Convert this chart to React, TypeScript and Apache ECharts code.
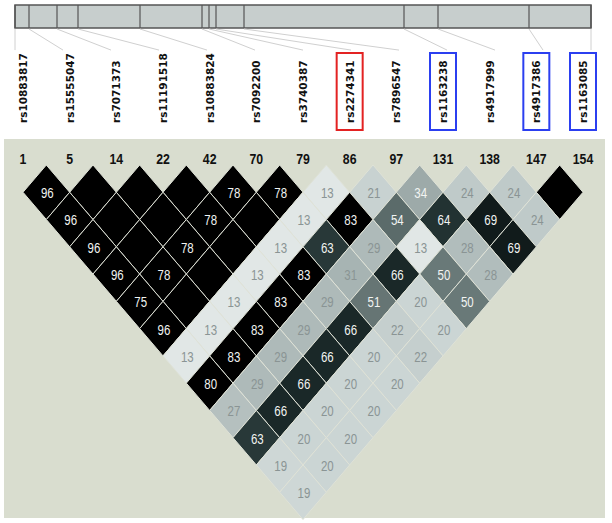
import React, { useEffect, useRef } from "react";
import * as echarts from "echarts";

const snpNames = [
  "rs10883817", "rs15555047", "rs7071373", "rs11191518", "rs10883824", "rs7092200",
  "rs3740387", "rs2274341", "rs7896547", "rs1163238", "rs4917999", "rs4917386", "rs1163085",
];
const markerNumbers = ["1", "5", "14", "22", "42", "70", "79", "86", "97", "131", "138", "147", "154"];
const barPositions = [0, 14, 42, 63, 125, 187, 194, 201, 229, 389, 423, 514, 576];
const barLength = 576;
const redBoxed = ["rs2274341"];
const blueBoxed = ["rs1163238", "rs4917386", "rs1163085"];

// LD values (r2 x 100) by marker distance: ldRows[k-1][i] = pair (i, i+k); 100 = black, no number
const ld1 = [96, 100, 100, 100, 78, 78, 13, 21, 34, 24, 24, 100];
const ld2 = [96, 100, 100, 78, 100, 13, 83, 54, 64, 69, 24];
const ld3 = [96, 100, 78, 100, 13, 63, 29, 13, 28, 69];
const ld4 = [96, 78, 100, 13, 83, 31, 66, 50, 28];
const ld5 = [75, 100, 13, 83, 29, 51, 20, 50];
const ld6 = [96, 13, 83, 29, 66, 22, 20];
const ld7 = [13, 83, 29, 66, 20, 22];
const ld8 = [80, 29, 66, 20, 20];
const ld9 = [27, 66, 20, 20];
const ld10 = [63, 20, 20];
const ld11 = [19, 20];
const ld12 = [19];
const ldRows = [ld1, ld2, ld3, ld4, ld5, ld6, ld7, ld8, ld9, ld10, ld11, ld12];

export default function App() {
  const ref = useRef<HTMLDivElement>(null);
  useEffect(() => {
    if (!ref.current) return;
    const chart = echarts.init(ref.current, null, { renderer: "svg" });
    const n = snpNames.length;
    const ldData: number[][] = [];
    ldRows.forEach((row, k) => row.forEach((v, i) => ldData.push([i, i + k + 1, v])));

    const option: any = {
      animation: false,
      graphic: [
        { type: "rect", z: -10, shape: { x: 4, y: 139, width: 601, height: 379 }, style: { fill: "#d9ddcf" } },
      ],
      grid: [
        { left: 23, width: 560, top: 165, height: 354.5 },
        { left: 15, width: 576, top: 5, height: 23 },
      ],
      xAxis: [
        { type: "value", gridIndex: 0, min: 0, max: n - 1, show: false },
        { type: "value", gridIndex: 1, min: 0, max: barLength, show: false },
      ],
      yAxis: [
        { type: "value", gridIndex: 0, min: 0, max: 13, inverse: true, show: false },
        { type: "value", gridIndex: 1, min: 0, max: 1, show: false },
      ],
      visualMap: {
        type: "continuous",
        show: false,
        seriesIndex: 0,
        dimension: 2,
        min: 13,
        max: 75,
        inRange: { color: ["#e1e7e6", "#c1cccb", "#9eabaa", "#7e8d8c", "#5a6a69", "#1e2e2e", "#000000"] },
      },
      series: [
        {
          type: "custom",
          xAxisIndex: 0,
          yAxisIndex: 0,
          data: ldData,
          renderItem: (params: any, api: any) => {
            const i = api.value(0), j = api.value(1), v = api.value(2);
            const cx = (i + j) / 2, cy = j - i;
            const pts = [
              api.coord([cx, cy - 1]),
              api.coord([cx + 0.5, cy]),
              api.coord([cx, cy + 1]),
              api.coord([cx - 0.5, cy]),
            ];
            const c = api.coord([cx, cy]);
            const children: any[] = [
              { type: "polygon", shape: { points: pts }, style: { fill: api.visual("color"), stroke: "#dfe2d7", lineWidth: 1 } },
            ];
            if (v < 100) {
              children.push({
                type: "text", x: c[0] + 1, y: c[1] + 1, scaleX: 0.82,
                style: {
                  text: String(v), fill: v >= 34 ? "#f2f4f2" : "#8a9494",
                  font: '14px "Liberation Sans", Arial, sans-serif', align: "center", verticalAlign: "middle",
                },
              });
            }
            return { type: "group", children };
          },
        },
        {
          type: "custom",
          xAxisIndex: 0,
          yAxisIndex: 0,
          data: markerNumbers.map((m, i) => [i, m]),
          renderItem: (params: any, api: any) => {
            const i = api.value(0);
            const p = api.coord([i, -0.2]);
            return {
              type: "text", x: p[0], y: p[1], scaleX: 0.82,
              style: {
                text: markerNumbers[i], fill: "#111111",
                font: 'bold 15px "Liberation Sans", Arial, sans-serif', align: "center", verticalAlign: "middle",
              },
            };
          },
        },
        {
          type: "custom",
          xAxisIndex: 0,
          yAxisIndex: 0,
          data: snpNames.map((s, i) => [i, s]),
          renderItem: (params: any, api: any) => {
            const i = api.value(0);
            const name = snpNames[i];
            const p = api.coord([i, -1.54]);
            const children: any[] = [
              {
                type: "text", x: p[0], y: p[1], rotation: Math.PI / 2,
                style: {
                  text: name, fill: "#111111",
                  font: 'bold 10.5px "DejaVu Sans", Verdana, sans-serif', align: "left", verticalAlign: "middle",
                },
              },
            ];
            const boxColor = redBoxed.includes(name) ? "#e32222" : blueBoxed.includes(name) ? "#2b3ff0" : null;
            if (boxColor) {
              children.push({
                type: "rect", shape: { x: p[0] - 13, y: p[1] - 70, width: 26, height: 77 },
                style: { fill: "none", stroke: boxColor, lineWidth: 2 },
              });
            }
            return { type: "group", children };
          },
        },
        {
          type: "custom",
          xAxisIndex: 1,
          yAxisIndex: 1,
          data: [[0, barLength]],
          renderItem: (params: any, api: any) => {
            const a = api.coord([api.value(0), 1]);
            const b = api.coord([api.value(1), 0]);
            return {
              type: "rect", shape: { x: a[0], y: a[1], width: b[0] - a[0], height: b[1] - a[1] },
              style: { fill: "#c7cecd", stroke: "#555555", lineWidth: 1.5 },
            };
          },
        },
        {
          type: "custom",
          xAxisIndex: 1,
          yAxisIndex: 1,
          data: barPositions.map((pos, i) => [pos, i]),
          renderItem: (params: any, api: any) => {
            const pos = api.value(0), i = api.value(1);
            const bottom = api.coord([pos, 0]);
            const top = api.coord([pos, 1]);
            const end = api.coord([(i * barLength) / (n - 1), -0.96]);
            return {
              type: "group",
              children: [
                { type: "line", shape: { x1: bottom[0], y1: bottom[1] + 1, x2: end[0], y2: end[1] }, style: { stroke: "#d0d0d0", lineWidth: 1 } },
                { type: "line", shape: { x1: top[0], y1: top[1], x2: bottom[0], y2: bottom[1] }, style: { stroke: "#555555", lineWidth: 1.2 } },
              ],
            };
          },
        },
      ],
    };
    chart.setOption(option);
    return () => chart.dispose();
  }, []);
  return (
    <div
      ref={ref}
      style={{ position: "fixed", left: 0, top: 0, width: 612, height: 523, background: "#ffffff" }}
    />
  );
}
